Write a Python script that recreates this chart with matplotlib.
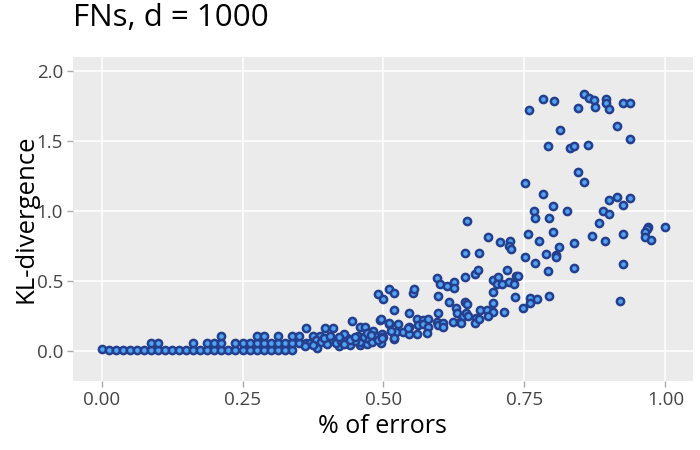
import matplotlib
matplotlib.use("Agg")
import matplotlib.pyplot as plt

plt.rcParams['font.family'] = ['Open Sans', 'DejaVu Sans']

# points, grouped roughly by region
x_low = [0.0, 0.0125, 0.025, 0.0375, 0.05, 0.0625, 0.075, 0.0875, 0.1, 0.1125,
         0.125, 0.1375, 0.15, 0.1625, 0.175, 0.1875, 0.2, 0.2125, 0.225, 0.2375,
         0.25, 0.2625, 0.275, 0.2875, 0.3, 0.3125, 0.325, 0.3375,
         0.0875, 0.1, 0.1625, 0.1875, 0.2, 0.2125, 0.2375, 0.25, 0.2625, 0.275,
         0.2875, 0.3, 0.3125, 0.325, 0.3375, 0.35, 0.3625,
         0.2125, 0.275, 0.2875, 0.3125, 0.3375, 0.35, 0.375, 0.3875]
y_low = [0.019, 0.007, 0.007, 0.007, 0.007, 0.007, 0.007, 0.007, 0.007, 0.007,
         0.007, 0.007, 0.007, 0.007, 0.007, 0.007, 0.007, 0.007, 0.007, 0.007,
         0.007, 0.007, 0.007, 0.007, 0.007, 0.007, 0.007, 0.007,
         0.057, 0.057, 0.057, 0.057, 0.057, 0.057, 0.057, 0.057, 0.057, 0.057,
         0.057, 0.057, 0.057, 0.057, 0.057, 0.057, 0.057,
         0.107, 0.107, 0.107, 0.107, 0.107, 0.107, 0.107, 0.107]

x_cluster = [0.362, 0.397, 0.41, 0.445, 0.459, 0.467, 0.481, 0.49, 0.493, 0.458,
             0.459, 0.383, 0.518, 0.495, 0.422, 0.37, 0.38, 0.39, 0.40, 0.41,
             0.415, 0.425, 0.435, 0.44, 0.45, 0.455, 0.465, 0.47, 0.475, 0.48,
             0.485, 0.49, 0.36, 0.375, 0.395, 0.405, 0.43, 0.47, 0.478, 0.497,
             0.50, 0.43, 0.44, 0.45, 0.422, 0.509, 0.525, 0.5]
y_cluster = [0.164, 0.164, 0.164, 0.214, 0.171, 0.171, 0.143, 0.407, 0.221, 0.043,
             0.064, 0.021, 0.086, 0.057, 0.036, 0.057, 0.08, 0.064, 0.05, 0.08,
             0.057, 0.071, 0.093, 0.043, 0.071, 0.107, 0.1, 0.05, 0.086, 0.064,
             0.107, 0.079, 0.036, 0.043, 0.093, 0.107, 0.121, 0.129, 0.114, 0.12,
             0.1, 0.05, 0.08, 0.1, 0.1, 0.193, 0.193, 0.371]

x_mid = [0.595, 0.6, 0.612, 0.625, 0.625, 0.644, 0.662, 0.667, 0.719, 0.694,
         0.703, 0.701, 0.71, 0.723, 0.731, 0.735, 0.739, 0.694, 0.733, 0.509,
         0.518, 0.552, 0.555, 0.596, 0.616, 0.644, 0.648, 0.628, 0.518, 0.546,
         0.596, 0.671, 0.683, 0.694, 0.694, 0.714, 0.685, 0.747, 0.76, 0.76,
         0.772, 0.495, 0.509, 0.522, 0.518, 0.534, 0.545, 0.545, 0.559, 0.559,
         0.561, 0.57, 0.57, 0.579, 0.579, 0.577, 0.595, 0.596, 0.605, 0.605,
         0.623, 0.63, 0.635, 0.641, 0.646, 0.65, 0.664, 0.662, 0.669, 0.637,
         0.498, 0.513, 0.543, 0.794]
y_mid = [0.521, 0.479, 0.464, 0.493, 0.45, 0.529, 0.55, 0.579, 0.579, 0.507,
         0.529, 0.479, 0.479, 0.493, 0.479, 0.536, 0.536, 0.421, 0.386, 0.443,
         0.414, 0.414, 0.443, 0.393, 0.35, 0.35, 0.336, 0.307, 0.293, 0.271,
         0.271, 0.293, 0.293, 0.343, 0.279, 0.279, 0.25, 0.307, 0.379, 0.343,
         0.371, 0.229, 0.2, 0.136, 0.093, 0.136, 0.171, 0.121, 0.229, 0.121,
         0.186, 0.221, 0.193, 0.229, 0.171, 0.129, 0.207, 0.186, 0.2, 0.171,
         0.207, 0.271, 0.207, 0.25, 0.271, 0.25, 0.236, 0.2, 0.229, 0.2,
         0.093, 0.143, 0.164, 0.393]

x_high = [0.686, 0.707, 0.724, 0.723, 0.726, 0.669, 0.644, 0.648, 0.767, 0.769,
          0.801, 0.794, 0.826, 0.756, 0.776, 0.801, 0.811, 0.838, 0.788, 0.806,
          0.806, 0.751, 0.769, 0.792, 0.838, 0.89, 0.9, 0.883, 0.87, 0.893,
          0.925, 0.925, 0.925, 0.92, 0.9, 0.783, 0.802, 0.856, 0.865, 0.874,
          0.845, 0.875, 0.895, 0.895, 0.9, 0.925, 0.938, 0.813, 0.914, 0.938,
          0.792, 0.831, 0.838, 0.863, 0.845, 0.856, 0.783, 0.914, 0.938, 0.97,
          0.968, 0.963, 0.963, 1.0, 0.975, 0.758, 0.751]
y_high = [0.814, 0.779, 0.786, 0.75, 0.729, 0.7, 0.7, 0.929, 1.0, 0.95,
          1.036, 0.95, 1.0, 0.836, 0.786, 0.85, 0.743, 0.771, 0.693, 0.686,
          0.671, 0.671, 0.629, 0.571, 0.593, 1.0, 0.979, 0.914, 0.821, 0.786,
          1.043, 0.836, 0.621, 0.357, 1.079, 1.8, 1.786, 1.836, 1.807, 1.793,
          1.736, 1.743, 1.8, 1.771, 1.729, 1.771, 1.771, 1.579, 1.607, 1.514,
          1.464, 1.45, 1.464, 1.471, 1.279, 1.207, 1.121, 1.1, 1.093, 0.886,
          0.871, 0.85, 0.814, 0.886, 0.793, 1.721, 1.2]

x_vals = x_low + x_cluster + x_mid + x_high
y_vals = y_low + y_cluster + y_mid + y_high

x_ticks = [0.0, 0.25, 0.5, 0.75, 1.0]
y_ticks = [0.0, 0.5, 1.0, 1.5, 2.0]

fig = plt.figure(figsize=(7, 4.5), dpi=100)
ax = fig.add_axes([0.104, 0.153, 0.886, 0.72])
ax.set_facecolor('#ebebeb')
for s in ax.spines.values():
    s.set_visible(False)
ax.grid(True, color='white', linewidth=1.1)
ax.set_axisbelow(True)

ax.plot(x_vals, y_vals, 'o', ms=5.2, mfc='#52a3f2', mec='#233f8e', mew=1.8)

ax.set_xlim(-0.051, 1.049)
ax.set_ylim(-0.214, 2.1)
ax.set_xticks(x_ticks)
ax.set_xticklabels(['0.00', '0.25', '0.50', '0.75', '1.00'])
ax.set_yticks(y_ticks)
ax.set_yticklabels(['0.0', '0.5', '1.0', '1.5', '2.0'])
ax.tick_params(labelsize=13.5, length=4, width=1, pad=3,
               colors='#aaaaaa', labelcolor='#444444')

ax.set_xlabel('% of errors', fontsize=18, color='black', labelpad=4)
ax.set_ylabel('KL-divergence', fontsize=18.5, color='black', labelpad=-1)
fig.text(0.104, 0.96, 'FNs, d = 1000', fontsize=22.5, ha='left', va='center')

fig.savefig('out.png', dpi=100)
